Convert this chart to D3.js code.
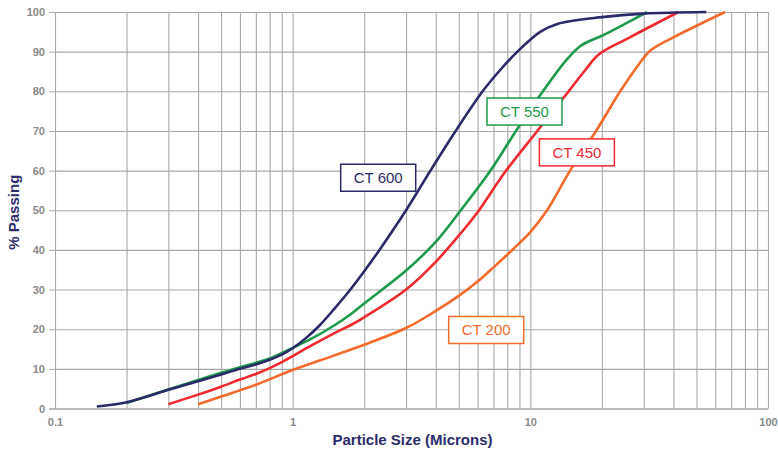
<!DOCTYPE html>
<html>
<head>
<meta charset="utf-8">
<script src="https://cdn.jsdelivr.net/npm/d3@7"></script>
<style>
  body { margin: 0; background: #fff; }
  svg { display: block; font-family: "Liberation Sans", Arial, sans-serif; }
</style>
</head>
<body>
<svg class="chart"></svg>
<script>
// Particle size (microns) vs cumulative % passing
const ct600 = [[0.15,0.5],[0.2,1.6],[0.3,4.7],[0.4,6.9],[0.5,8.6],[0.6,10],[0.7,11.1],[0.8,12.3],[0.9,13.6],
  [1,15.2],[1.15,18],[1.3,21],[1.5,25.2],[1.75,30],[2,34.6],[2.35,40.5],[3,50],[3.8,60],[4.85,70],
  [6.3,80],[7.5,85.5],[9,90.5],[11,95],[13,97],[20,98.7],[30,99.6],[55,100]];
const ct550 = [[0.2,1.4],[0.3,4.8],[0.4,7.2],[0.5,9],[0.6,10.4],[0.8,12.6],[1,15.3],[1.2,17.6],
  [1.5,21],[1.75,23.7],[2,26.5],[3,34.8],[4,42],[5.1,50],[6.8,60],[8.7,70],[11.3,80],[14,87.5],
  [16.3,91.5],[20,94],[25,97],[31,100]];
const ct450 = [[0.3,1.1],[0.4,3.5],[0.5,5.5],[0.6,7.3],[0.7,8.7],[0.8,10.2],[0.9,11.7],[1,13.2],
  [1.2,15.9],[1.5,19],[1.75,21],[2,23],[3,30],[4,37],[5,43.6],[6,49.5],[7.8,59.5],[10.7,70],[14.5,80],
  [17,85.3],[19.5,89.4],[26,93.5],[42,100]];
const ct200 = [[0.4,1.1],[0.5,3],[0.7,6],[1,9.7],[1.5,13.4],[2,16.1],[3,20.3],[4,24.6],[5,28.4],
  [6,32],[7,35.6],[8.5,40.3],[10,44.5],[11.7,49.8],[14.7,60],[18.9,70],[23.9,80],[28,86],[32,90.3],
  [40,93.6],[66,100]];

const seriesNames = ['CT 600', 'CT 550', 'CT 450', 'CT 200'];
const seriesData = [ct600, ct550, ct450, ct200];
const seriesColors = ['#2a2a68', '#1f9a4c', '#ee2a30', '#f26a2c'];
// where each name box sits, in data units (microns, %)
const labelX = [2.29, 9.45, 15.7, 6.52];
const labelY = [58.2, 74.9, 64.6, 19.8];

const xTicks = [0.1, 1, 10, 100];
const yTicks = [0, 10, 20, 30, 40, 50, 60, 70, 80, 90, 100];

const svgWidth = 778;
const svgHeight = 450;
const margin = { top: 12, right: 10, bottom: 41.5, left: 55 };
const chartWidth = svgWidth - margin.left - margin.right;
const chartHeight = svgHeight - margin.top - margin.bottom;

const svg = d3.select('.chart')
  .attr('width', svgWidth)
  .attr('height', svgHeight);

const chart = svg.append('g')
  .attr('transform', 'translate(' + margin.left + ',' + margin.top + ')');

const xScale = d3.scaleLog().domain([0.1, 100]).range([0, chartWidth]);
const yScale = d3.scaleLinear().domain([0, 100]).range([chartHeight, 0]);

// grid lines (log minor lines too)
chart.append('g')
  .attr('transform', 'translate(0,' + chartHeight + ')')
  .call(d3.axisBottom(xScale).tickValues(xScale.ticks()).tickSize(-chartHeight).tickFormat(''))
  .call(g => g.select('.domain').remove())
  .call(g => g.selectAll('line').attr('stroke', '#a8a8a8').attr('stroke-width', 1.1));

chart.append('g')
  .call(d3.axisLeft(yScale).tickValues(yTicks).tickSize(-chartWidth).tickFormat(''))
  .call(g => g.select('.domain').remove())
  .call(g => g.selectAll('line').attr('stroke', '#a8a8a8').attr('stroke-width', 1.1));

// axes
const xAxisGroup = chart.append('g')
  .attr('transform', 'translate(0,' + chartHeight + ')')
  .call(d3.axisBottom(xScale).tickValues(xTicks).tickSize(0).tickPadding(10).tickFormat(d => d));
xAxisGroup.select('.domain').attr('stroke', '#a8a8a8');
xAxisGroup.selectAll('text').attr('fill', '#8a8a8a').attr('font-size', '11px').attr('font-weight', 'bold');

const yAxisGroup = chart.append('g')
  .call(d3.axisLeft(yScale).tickValues(yTicks).tickSize(6).tickPadding(4));
yAxisGroup.select('.domain').attr('stroke', '#a8a8a8');
yAxisGroup.selectAll('line').attr('stroke', '#a8a8a8');
yAxisGroup.selectAll('text').attr('fill', '#8a8a8a').attr('font-size', '11px').attr('font-weight', 'bold');

xAxisGroup.append('text')
  .attr('x', chartWidth / 2 + 1)
  .attr('y', 36)
  .attr('fill', '#2b2c6b')
  .attr('text-anchor', 'middle')
  .attr('font-size', '15px')
  .attr('font-weight', 'bold')
  .text('Particle Size (Microns)');

yAxisGroup.append('text')
  .attr('transform', 'rotate(-90)')
  .attr('x', -yScale(49.5))
  .attr('y', -36)
  .attr('fill', '#2b2c6b')
  .attr('text-anchor', 'middle')
  .attr('font-size', '15px')
  .attr('font-weight', 'bold')
  .text('% Passing');

// curves
const line = d3.line()
  .x(d => xScale(d[0]))
  .y(d => yScale(d[1]))
  .curve(d3.curveCatmullRom.alpha(0.5));

// draw back to front so the navy sits on top at the low end
const order = [3, 2, 1, 0];
order.forEach(i => {
  chart.append('path')
    .datum(seriesData[i])
    .attr('fill', 'none')
    .attr('stroke', seriesColors[i])
    .attr('stroke-width', 2.6)
    .attr('stroke-linejoin', 'round')
    .attr('d', line);
});

// name boxes
seriesNames.forEach((name, i) => {
  const g = chart.append('g')
    .attr('transform', 'translate(' + xScale(labelX[i]) + ',' + yScale(labelY[i]) + ')');
  g.append('rect')
    .attr('x', -37.5)
    .attr('y', -13.5)
    .attr('width', 75)
    .attr('height', 27)
    .attr('fill', 'white')
    .attr('stroke', seriesColors[i])
    .attr('stroke-width', 1.5);
  g.append('text')
    .attr('text-anchor', 'middle')
    .attr('dy', '0.36em')
    .attr('fill', seriesColors[i])
    .attr('font-size', '15px')
    .text(name);
});
</script>
</body>
</html>
